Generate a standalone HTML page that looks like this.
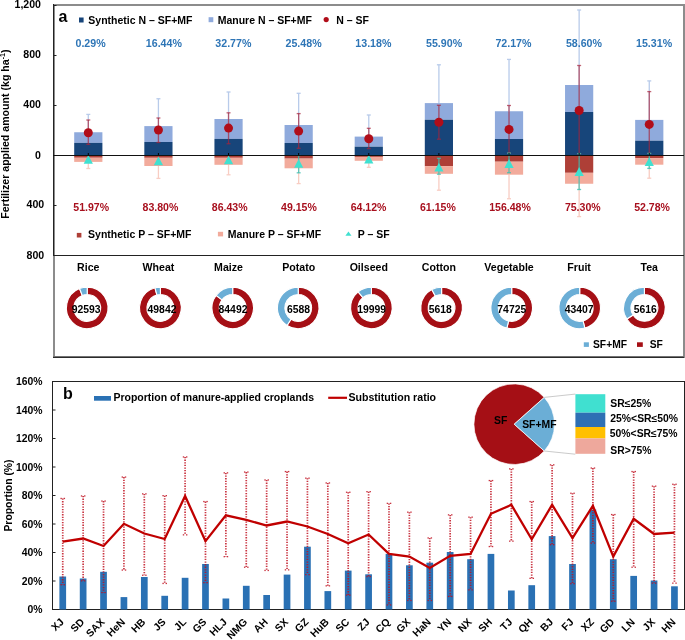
<!DOCTYPE html>
<html><head><meta charset="utf-8"><style>
html,body{margin:0;padding:0;background:#fff;}
svg{display:block;will-change:transform;}
</style></head><body>
<svg width="685" height="640" viewBox="0 0 685 640" font-family="Liberation Sans, sans-serif" font-weight="bold">
<rect width="685" height="640" fill="#fff"/>
<rect x="54" y="5" width="630" height="352" fill="none" stroke="#8c8c8c" stroke-width="2"/>
<line x1="53.50" y1="4.00" x2="53.50" y2="256.00" stroke="#222" stroke-width="1" />
<line x1="53.00" y1="255.50" x2="684.00" y2="255.50" stroke="#222" stroke-width="1" />
<line x1="53.00" y1="357.30" x2="684.00" y2="357.30" stroke="#2b2b2b" stroke-width="1.2" />
<line x1="53.50" y1="5.50" x2="56.50" y2="5.50" stroke="#222" stroke-width="1" />
<line x1="53.50" y1="55.50" x2="56.50" y2="55.50" stroke="#222" stroke-width="1" />
<line x1="53.50" y1="105.50" x2="56.50" y2="105.50" stroke="#222" stroke-width="1" />
<line x1="53.50" y1="155.50" x2="56.50" y2="155.50" stroke="#222" stroke-width="1" />
<line x1="53.50" y1="205.50" x2="56.50" y2="205.50" stroke="#222" stroke-width="1" />
<line x1="53.50" y1="255.50" x2="56.50" y2="255.50" stroke="#222" stroke-width="1" />
<text x="41.00" y="8.20" font-size="10.6" fill="#000" text-anchor="end" >1,200</text>
<text x="41.00" y="58.20" font-size="10.6" fill="#000" text-anchor="end" >800</text>
<text x="41.00" y="108.20" font-size="10.6" fill="#000" text-anchor="end" >400</text>
<text x="41.00" y="158.70" font-size="10.6" fill="#000" text-anchor="end" >0</text>
<text x="44.20" y="208.30" font-size="10.6" fill="#000" text-anchor="end" >400</text>
<text x="44.20" y="258.60" font-size="10.6" fill="#000" text-anchor="end" >800</text>
<text transform="translate(9.3,134.2) rotate(-90)" x="0" y="0" font-size="10.6" text-anchor="middle">Fertilizer applied amount (kg ha<tspan font-size="7" dy="-4">-1</tspan><tspan dy="4">)</tspan></text>
<line x1="88.30" y1="114.40" x2="88.30" y2="132.25" stroke="#b8cbea" stroke-width="1.3" />
<line x1="86.30" y1="114.40" x2="90.30" y2="114.40" stroke="#b8cbea" stroke-width="1.3" />
<line x1="88.30" y1="161.90" x2="88.30" y2="168.50" stroke="#f8cdc3" stroke-width="1.3" />
<line x1="86.30" y1="168.50" x2="90.30" y2="168.50" stroke="#f8cdc3" stroke-width="1.3" />
<rect x="74.20" y="132.25" width="28.20" height="10.65" fill="#8faadc" />
<rect x="74.20" y="142.90" width="28.20" height="12.60" fill="#17457a" />
<rect x="74.20" y="155.50" width="28.20" height="2.25" fill="#ae3f37" />
<rect x="74.20" y="157.75" width="28.20" height="4.15" fill="#f2ab9c" />
<g stroke="#a8243a" stroke-opacity="0.7" stroke-width="1.3"><line x1="88.30" y1="120.00" x2="88.30" y2="144.40"/><line x1="86.30" y1="120.00" x2="90.30" y2="120.00"/><line x1="86.30" y1="144.40" x2="90.30" y2="144.40"/></g>
<circle cx="88.30" cy="132.75" r="4.5" fill="#b00d19"/>
<polygon points="88.30,155.00 92.90,163.80 83.70,163.80" fill="#40e0d0"/>
<line x1="88.30" y1="153.00" x2="88.30" y2="155.50" stroke="#000" stroke-width="1" />
<line x1="158.42" y1="98.75" x2="158.42" y2="126.10" stroke="#b8cbea" stroke-width="1.3" />
<line x1="156.42" y1="98.75" x2="160.42" y2="98.75" stroke="#b8cbea" stroke-width="1.3" />
<line x1="158.42" y1="166.00" x2="158.42" y2="178.40" stroke="#f8cdc3" stroke-width="1.3" />
<line x1="156.42" y1="178.40" x2="160.42" y2="178.40" stroke="#f8cdc3" stroke-width="1.3" />
<rect x="144.32" y="126.10" width="28.20" height="15.90" fill="#8faadc" />
<rect x="144.32" y="142.00" width="28.20" height="13.50" fill="#17457a" />
<rect x="144.32" y="155.50" width="28.20" height="2.30" fill="#ae3f37" />
<rect x="144.32" y="157.80" width="28.20" height="8.20" fill="#f2ab9c" />
<g stroke="#a8243a" stroke-opacity="0.7" stroke-width="1.3"><line x1="158.42" y1="118.00" x2="158.42" y2="142.50"/><line x1="156.42" y1="118.00" x2="160.42" y2="118.00"/><line x1="156.42" y1="142.50" x2="160.42" y2="142.50"/></g>
<circle cx="158.42" cy="130.00" r="4.5" fill="#b00d19"/>
<polygon points="158.42,156.50 163.02,165.30 153.82,165.30" fill="#40e0d0"/>
<line x1="158.42" y1="153.00" x2="158.42" y2="155.50" stroke="#000" stroke-width="1" />
<line x1="228.54" y1="92.00" x2="228.54" y2="119.00" stroke="#b8cbea" stroke-width="1.3" />
<line x1="226.54" y1="92.00" x2="230.54" y2="92.00" stroke="#b8cbea" stroke-width="1.3" />
<line x1="228.54" y1="164.80" x2="228.54" y2="174.80" stroke="#f8cdc3" stroke-width="1.3" />
<line x1="226.54" y1="174.80" x2="230.54" y2="174.80" stroke="#f8cdc3" stroke-width="1.3" />
<rect x="214.44" y="119.00" width="28.20" height="19.90" fill="#8faadc" />
<rect x="214.44" y="138.90" width="28.20" height="16.60" fill="#17457a" />
<rect x="214.44" y="155.50" width="28.20" height="2.30" fill="#ae3f37" />
<rect x="214.44" y="157.80" width="28.20" height="7.00" fill="#f2ab9c" />
<g stroke="#a8243a" stroke-opacity="0.7" stroke-width="1.3"><line x1="228.54" y1="112.80" x2="228.54" y2="143.75"/><line x1="226.54" y1="112.80" x2="230.54" y2="112.80"/><line x1="226.54" y1="143.75" x2="230.54" y2="143.75"/></g>
<circle cx="228.54" cy="128.10" r="4.5" fill="#b00d19"/>
<polygon points="228.54,155.50 233.14,164.30 223.94,164.30" fill="#40e0d0"/>
<line x1="228.54" y1="153.00" x2="228.54" y2="155.50" stroke="#000" stroke-width="1" />
<line x1="298.66" y1="93.30" x2="298.66" y2="125.00" stroke="#b8cbea" stroke-width="1.3" />
<line x1="296.66" y1="93.30" x2="300.66" y2="93.30" stroke="#b8cbea" stroke-width="1.3" />
<line x1="298.66" y1="168.30" x2="298.66" y2="183.60" stroke="#f8cdc3" stroke-width="1.3" />
<line x1="296.66" y1="183.60" x2="300.66" y2="183.60" stroke="#f8cdc3" stroke-width="1.3" />
<rect x="284.56" y="125.00" width="28.20" height="18.00" fill="#8faadc" />
<rect x="284.56" y="143.00" width="28.20" height="12.50" fill="#17457a" />
<rect x="284.56" y="155.50" width="28.20" height="3.10" fill="#ae3f37" />
<rect x="284.56" y="158.60" width="28.20" height="9.70" fill="#f2ab9c" />
<g stroke="#a8243a" stroke-opacity="0.7" stroke-width="1.3"><line x1="298.66" y1="113.60" x2="298.66" y2="148.30"/><line x1="296.66" y1="113.60" x2="300.66" y2="113.60"/><line x1="296.66" y1="148.30" x2="300.66" y2="148.30"/></g>
<g stroke="#3cbfb2" stroke-opacity="0.8" stroke-width="1.3"><line x1="298.66" y1="155.50" x2="298.66" y2="172.80"/><line x1="296.66" y1="155.50" x2="300.66" y2="155.50"/><line x1="296.66" y1="172.80" x2="300.66" y2="172.80"/></g>
<circle cx="298.66" cy="131.10" r="4.5" fill="#b00d19"/>
<polygon points="298.66,158.90 303.26,167.70 294.06,167.70" fill="#40e0d0"/>
<line x1="298.66" y1="153.00" x2="298.66" y2="155.50" stroke="#000" stroke-width="1" />
<line x1="368.78" y1="115.00" x2="368.78" y2="136.60" stroke="#b8cbea" stroke-width="1.3" />
<line x1="366.78" y1="115.00" x2="370.78" y2="115.00" stroke="#b8cbea" stroke-width="1.3" />
<line x1="368.78" y1="160.80" x2="368.78" y2="167.30" stroke="#f8cdc3" stroke-width="1.3" />
<line x1="366.78" y1="167.30" x2="370.78" y2="167.30" stroke="#f8cdc3" stroke-width="1.3" />
<rect x="354.68" y="136.60" width="28.20" height="10.10" fill="#8faadc" />
<rect x="354.68" y="146.70" width="28.20" height="8.80" fill="#17457a" />
<rect x="354.68" y="155.50" width="28.20" height="1.40" fill="#ae3f37" />
<rect x="354.68" y="156.90" width="28.20" height="3.90" fill="#f2ab9c" />
<g stroke="#a8243a" stroke-opacity="0.7" stroke-width="1.3"><line x1="368.78" y1="128.30" x2="368.78" y2="148.60"/><line x1="366.78" y1="128.30" x2="370.78" y2="128.30"/><line x1="366.78" y1="148.60" x2="370.78" y2="148.60"/></g>
<circle cx="368.78" cy="138.75" r="4.5" fill="#b00d19"/>
<polygon points="368.78,154.70 373.38,163.50 364.18,163.50" fill="#40e0d0"/>
<line x1="368.78" y1="153.00" x2="368.78" y2="155.50" stroke="#000" stroke-width="1" />
<line x1="438.90" y1="64.80" x2="438.90" y2="103.10" stroke="#b8cbea" stroke-width="1.3" />
<line x1="436.90" y1="64.80" x2="440.90" y2="64.80" stroke="#b8cbea" stroke-width="1.3" />
<line x1="438.90" y1="173.80" x2="438.90" y2="190.20" stroke="#f8cdc3" stroke-width="1.3" />
<line x1="436.90" y1="190.20" x2="440.90" y2="190.20" stroke="#f8cdc3" stroke-width="1.3" />
<rect x="424.80" y="103.10" width="28.20" height="16.65" fill="#8faadc" />
<rect x="424.80" y="119.75" width="28.20" height="35.75" fill="#17457a" />
<rect x="424.80" y="155.50" width="28.20" height="10.60" fill="#ae3f37" />
<rect x="424.80" y="166.10" width="28.20" height="7.70" fill="#f2ab9c" />
<g stroke="#a8243a" stroke-opacity="0.7" stroke-width="1.3"><line x1="438.90" y1="105.30" x2="438.90" y2="139.20"/><line x1="436.90" y1="105.30" x2="440.90" y2="105.30"/><line x1="436.90" y1="139.20" x2="440.90" y2="139.20"/></g>
<g stroke="#3cbfb2" stroke-opacity="0.8" stroke-width="1.3"><line x1="438.90" y1="158.30" x2="438.90" y2="174.20"/><line x1="436.90" y1="158.30" x2="440.90" y2="158.30"/><line x1="436.90" y1="174.20" x2="440.90" y2="174.20"/></g>
<circle cx="438.90" cy="122.20" r="4.5" fill="#b00d19"/>
<polygon points="438.90,162.70 443.50,171.50 434.30,171.50" fill="#40e0d0"/>
<line x1="438.90" y1="153.00" x2="438.90" y2="155.50" stroke="#000" stroke-width="1" />
<line x1="509.02" y1="59.40" x2="509.02" y2="111.25" stroke="#b8cbea" stroke-width="1.3" />
<line x1="507.02" y1="59.40" x2="511.02" y2="59.40" stroke="#b8cbea" stroke-width="1.3" />
<line x1="509.02" y1="174.70" x2="509.02" y2="198.75" stroke="#f8cdc3" stroke-width="1.3" />
<line x1="507.02" y1="198.75" x2="511.02" y2="198.75" stroke="#f8cdc3" stroke-width="1.3" />
<rect x="494.92" y="111.25" width="28.20" height="27.75" fill="#8faadc" />
<rect x="494.92" y="139.00" width="28.20" height="16.50" fill="#17457a" />
<rect x="494.92" y="155.50" width="28.20" height="6.20" fill="#ae3f37" />
<rect x="494.92" y="161.70" width="28.20" height="13.00" fill="#f2ab9c" />
<g stroke="#a8243a" stroke-opacity="0.7" stroke-width="1.3"><line x1="509.02" y1="105.50" x2="509.02" y2="153.00"/><line x1="507.02" y1="105.50" x2="511.02" y2="105.50"/><line x1="507.02" y1="153.00" x2="511.02" y2="153.00"/></g>
<g stroke="#3cbfb2" stroke-opacity="0.8" stroke-width="1.3"><line x1="509.02" y1="153.10" x2="509.02" y2="172.70"/><line x1="507.02" y1="153.10" x2="511.02" y2="153.10"/><line x1="507.02" y1="172.70" x2="511.02" y2="172.70"/></g>
<circle cx="509.02" cy="129.40" r="4.5" fill="#b00d19"/>
<polygon points="509.02,159.10 513.62,167.90 504.42,167.90" fill="#40e0d0"/>
<line x1="509.02" y1="153.00" x2="509.02" y2="155.50" stroke="#000" stroke-width="1" />
<line x1="579.14" y1="10.00" x2="579.14" y2="85.00" stroke="#b8cbea" stroke-width="1.3" />
<line x1="577.14" y1="10.00" x2="581.14" y2="10.00" stroke="#b8cbea" stroke-width="1.3" />
<line x1="579.14" y1="183.75" x2="579.14" y2="216.60" stroke="#f8cdc3" stroke-width="1.3" />
<line x1="577.14" y1="216.60" x2="581.14" y2="216.60" stroke="#f8cdc3" stroke-width="1.3" />
<rect x="565.04" y="85.00" width="28.20" height="27.00" fill="#8faadc" />
<rect x="565.04" y="112.00" width="28.20" height="43.50" fill="#17457a" />
<rect x="565.04" y="155.50" width="28.20" height="17.30" fill="#ae3f37" />
<rect x="565.04" y="172.80" width="28.20" height="10.95" fill="#f2ab9c" />
<g stroke="#a8243a" stroke-opacity="0.7" stroke-width="1.3"><line x1="579.14" y1="65.50" x2="579.14" y2="153.75"/><line x1="577.14" y1="65.50" x2="581.14" y2="65.50"/><line x1="577.14" y1="153.75" x2="581.14" y2="153.75"/></g>
<g stroke="#3cbfb2" stroke-opacity="0.8" stroke-width="1.3"><line x1="579.14" y1="153.60" x2="579.14" y2="189.50"/><line x1="577.14" y1="153.60" x2="581.14" y2="153.60"/><line x1="577.14" y1="189.50" x2="581.14" y2="189.50"/></g>
<circle cx="579.14" cy="110.50" r="4.5" fill="#b00d19"/>
<polygon points="579.14,167.10 583.74,175.90 574.54,175.90" fill="#40e0d0"/>
<line x1="579.14" y1="153.00" x2="579.14" y2="155.50" stroke="#000" stroke-width="1" />
<line x1="649.26" y1="80.90" x2="649.26" y2="119.90" stroke="#b8cbea" stroke-width="1.3" />
<line x1="647.26" y1="80.90" x2="651.26" y2="80.90" stroke="#b8cbea" stroke-width="1.3" />
<line x1="649.26" y1="164.70" x2="649.26" y2="178.20" stroke="#f8cdc3" stroke-width="1.3" />
<line x1="647.26" y1="178.20" x2="651.26" y2="178.20" stroke="#f8cdc3" stroke-width="1.3" />
<rect x="635.16" y="119.90" width="28.20" height="20.80" fill="#8faadc" />
<rect x="635.16" y="140.70" width="28.20" height="14.80" fill="#17457a" />
<rect x="635.16" y="155.50" width="28.20" height="2.60" fill="#ae3f37" />
<rect x="635.16" y="158.10" width="28.20" height="6.60" fill="#f2ab9c" />
<g stroke="#a8243a" stroke-opacity="0.7" stroke-width="1.3"><line x1="649.26" y1="91.60" x2="649.26" y2="153.40"/><line x1="647.26" y1="91.60" x2="651.26" y2="91.60"/><line x1="647.26" y1="153.40" x2="651.26" y2="153.40"/></g>
<g stroke="#3cbfb2" stroke-opacity="0.8" stroke-width="1.3"><line x1="649.26" y1="153.40" x2="649.26" y2="168.40"/><line x1="647.26" y1="153.40" x2="651.26" y2="153.40"/><line x1="647.26" y1="168.40" x2="651.26" y2="168.40"/></g>
<circle cx="649.26" cy="124.40" r="4.5" fill="#b00d19"/>
<polygon points="649.26,157.20 653.86,166.00 644.66,166.00" fill="#40e0d0"/>
<line x1="649.26" y1="153.00" x2="649.26" y2="155.50" stroke="#000" stroke-width="1" />
<line x1="53.00" y1="155.50" x2="684.00" y2="155.50" stroke="#111" stroke-width="1" />
<text x="75.50" y="46.90" font-size="10.65" fill="#2e75b6" text-anchor="start" >0.29%</text>
<text x="145.80" y="46.90" font-size="10.65" fill="#2e75b6" text-anchor="start" >16.44%</text>
<text x="215.30" y="46.90" font-size="10.65" fill="#2e75b6" text-anchor="start" >32.77%</text>
<text x="285.50" y="46.90" font-size="10.65" fill="#2e75b6" text-anchor="start" >25.48%</text>
<text x="355.30" y="46.90" font-size="10.65" fill="#2e75b6" text-anchor="start" >13.18%</text>
<text x="426.00" y="46.90" font-size="10.65" fill="#2e75b6" text-anchor="start" >55.90%</text>
<text x="495.40" y="46.90" font-size="10.65" fill="#2e75b6" text-anchor="start" >72.17%</text>
<text x="565.90" y="46.90" font-size="10.65" fill="#2e75b6" text-anchor="start" >58.60%</text>
<text x="636.00" y="46.90" font-size="10.65" fill="#2e75b6" text-anchor="start" >15.31%</text>
<text x="73.30" y="210.90" font-size="10.55" fill="#a8101e" text-anchor="start" >51.97%</text>
<text x="142.60" y="210.90" font-size="10.55" fill="#a8101e" text-anchor="start" >83.80%</text>
<text x="211.80" y="210.90" font-size="10.55" fill="#a8101e" text-anchor="start" >86.43%</text>
<text x="281.10" y="210.90" font-size="10.55" fill="#a8101e" text-anchor="start" >49.15%</text>
<text x="350.70" y="210.90" font-size="10.55" fill="#a8101e" text-anchor="start" >64.12%</text>
<text x="420.00" y="210.90" font-size="10.55" fill="#a8101e" text-anchor="start" >61.15%</text>
<text x="489.20" y="210.90" font-size="10.55" fill="#a8101e" text-anchor="start" >156.48%</text>
<text x="564.90" y="210.90" font-size="10.55" fill="#a8101e" text-anchor="start" >75.30%</text>
<text x="634.20" y="210.90" font-size="10.55" fill="#a8101e" text-anchor="start" >52.78%</text>
<text x="58.50" y="22.00" font-size="16" fill="#000" text-anchor="start" >a</text>
<rect x="79.00" y="17.50" width="4.60" height="5.00" fill="#17457a" />
<text x="88.30" y="23.50" font-size="10.5" fill="#000" text-anchor="start" >Synthetic N – SF+MF</text>
<rect x="208.60" y="17.20" width="4.70" height="5.00" fill="#8faadc" />
<text x="217.70" y="23.50" font-size="10.5" fill="#000" text-anchor="start" >Manure N – SF+MF</text>
<circle cx="326.2" cy="19.6" r="2.6" fill="#b00d19"/>
<text x="336.20" y="23.50" font-size="10.5" fill="#000" text-anchor="start" >N – SF</text>
<rect x="76.80" y="232.90" width="4.60" height="4.60" fill="#ae3f37" />
<text x="88.10" y="238.10" font-size="10.5" fill="#000" text-anchor="start" >Synthetic P – SF+MF</text>
<rect x="217.90" y="231.80" width="5.20" height="4.60" fill="#f2ab9c" />
<text x="227.70" y="237.60" font-size="10.5" fill="#000" text-anchor="start" >Manure P – SF+MF</text>
<polygon points="348.45,231.6 351.5,235.8 345.4,235.8" fill="#40e0d0"/>
<text x="357.80" y="238.10" font-size="10.5" fill="#000" text-anchor="start" >P – SF</text>
<text x="88.30" y="271.10" font-size="10.6" fill="#000" text-anchor="middle" >Rice</text>
<text x="158.42" y="271.10" font-size="10.6" fill="#000" text-anchor="middle" >Wheat</text>
<text x="228.54" y="271.10" font-size="10.6" fill="#000" text-anchor="middle" >Maize</text>
<text x="298.66" y="271.10" font-size="10.6" fill="#000" text-anchor="middle" >Potato</text>
<text x="368.78" y="271.10" font-size="10.6" fill="#000" text-anchor="middle" >Oilseed</text>
<text x="438.90" y="271.10" font-size="10.6" fill="#000" text-anchor="middle" >Cotton</text>
<text x="509.02" y="271.10" font-size="10.6" fill="#000" text-anchor="middle" >Vegetable</text>
<text x="579.14" y="271.10" font-size="10.6" fill="#000" text-anchor="middle" >Fruit</text>
<text x="649.26" y="271.10" font-size="10.6" fill="#000" text-anchor="middle" >Tea</text>
<path d="M87.20,287.10 A20.8,20.8 0 1 1 79.54,288.56 L82.27,295.44 A13.4,13.4 0 1 0 87.20,294.50 Z" fill="#a50f15" stroke="#fff" stroke-width="1.1"/>
<path d="M79.54,288.56 A20.8,20.8 0 0 1 87.20,287.10 L87.20,294.50 A13.4,13.4 0 0 0 82.27,295.44 Z" fill="#6baed6" stroke="#fff" stroke-width="1.1"/>
<text x="86.10" y="312.60" font-size="10.4" fill="#000" text-anchor="middle" >92593</text>
<path d="M160.40,287.10 A20.8,20.8 0 1 1 154.97,287.82 L156.90,294.96 A13.4,13.4 0 1 0 160.40,294.50 Z" fill="#a50f15" stroke="#fff" stroke-width="1.1"/>
<path d="M154.97,287.82 A20.8,20.8 0 0 1 160.40,287.10 L160.40,294.50 A13.4,13.4 0 0 0 156.90,294.96 Z" fill="#6baed6" stroke="#fff" stroke-width="1.1"/>
<text x="162.00" y="312.60" font-size="10.4" fill="#000" text-anchor="middle" >49842</text>
<path d="M232.70,287.10 A20.8,20.8 0 1 1 216.11,295.36 L222.01,299.82 A13.4,13.4 0 1 0 232.70,294.50 Z" fill="#a50f15" stroke="#fff" stroke-width="1.1"/>
<path d="M216.11,295.36 A20.8,20.8 0 0 1 232.70,287.10 L232.70,294.50 A13.4,13.4 0 0 0 222.01,299.82 Z" fill="#6baed6" stroke="#fff" stroke-width="1.1"/>
<text x="233.00" y="312.60" font-size="10.4" fill="#000" text-anchor="middle" >84492</text>
<path d="M298.20,287.10 A20.8,20.8 0 1 1 287.05,325.46 L291.02,319.21 A13.4,13.4 0 1 0 298.20,294.50 Z" fill="#a50f15" stroke="#fff" stroke-width="1.1"/>
<path d="M287.05,325.46 A20.8,20.8 0 0 1 298.20,287.10 L298.20,294.50 A13.4,13.4 0 0 0 291.02,319.21 Z" fill="#6baed6" stroke="#fff" stroke-width="1.1"/>
<text x="298.50" y="312.60" font-size="10.4" fill="#000" text-anchor="middle" >6588</text>
<path d="M371.40,287.10 A20.8,20.8 0 1 1 358.14,291.87 L362.86,297.58 A13.4,13.4 0 1 0 371.40,294.50 Z" fill="#a50f15" stroke="#fff" stroke-width="1.1"/>
<path d="M358.14,291.87 A20.8,20.8 0 0 1 371.40,287.10 L371.40,294.50 A13.4,13.4 0 0 0 362.86,297.58 Z" fill="#6baed6" stroke="#fff" stroke-width="1.1"/>
<text x="371.60" y="312.60" font-size="10.4" fill="#000" text-anchor="middle" >19999</text>
<path d="M441.60,287.10 A20.8,20.8 0 1 1 431.81,289.55 L435.29,296.08 A13.4,13.4 0 1 0 441.60,294.50 Z" fill="#a50f15" stroke="#fff" stroke-width="1.1"/>
<path d="M431.81,289.55 A20.8,20.8 0 0 1 441.60,287.10 L441.60,294.50 A13.4,13.4 0 0 0 435.29,296.08 Z" fill="#6baed6" stroke="#fff" stroke-width="1.1"/>
<text x="440.20" y="312.60" font-size="10.4" fill="#000" text-anchor="middle" >5618</text>
<path d="M511.70,287.10 A20.8,20.8 0 1 1 506.91,328.14 L508.61,320.94 A13.4,13.4 0 1 0 511.70,294.50 Z" fill="#a50f15" stroke="#fff" stroke-width="1.1"/>
<path d="M506.91,328.14 A20.8,20.8 0 0 1 511.70,287.10 L511.70,294.50 A13.4,13.4 0 0 0 508.61,320.94 Z" fill="#6baed6" stroke="#fff" stroke-width="1.1"/>
<text x="511.80" y="312.60" font-size="10.4" fill="#000" text-anchor="middle" >74725</text>
<path d="M579.70,287.10 A20.8,20.8 0 0 1 584.87,328.05 L583.03,320.88 A13.4,13.4 0 0 0 579.70,294.50 Z" fill="#a50f15" stroke="#fff" stroke-width="1.1"/>
<path d="M584.87,328.05 A20.8,20.8 0 1 1 579.70,287.10 L579.70,294.50 A13.4,13.4 0 1 0 583.03,320.88 Z" fill="#6baed6" stroke="#fff" stroke-width="1.1"/>
<text x="579.20" y="312.60" font-size="10.4" fill="#000" text-anchor="middle" >43407</text>
<path d="M644.40,287.10 A20.8,20.8 0 1 1 626.84,319.05 L633.09,315.08 A13.4,13.4 0 1 0 644.40,294.50 Z" fill="#a50f15" stroke="#fff" stroke-width="1.1"/>
<path d="M626.84,319.05 A20.8,20.8 0 0 1 644.40,287.10 L644.40,294.50 A13.4,13.4 0 0 0 633.09,315.08 Z" fill="#6baed6" stroke="#fff" stroke-width="1.1"/>
<text x="645.20" y="312.60" font-size="10.4" fill="#000" text-anchor="middle" >5616</text>
<rect x="583.80" y="342.30" width="5.10" height="4.60" fill="#6baed6" />
<text x="593.00" y="348.40" font-size="10.3" fill="#000" text-anchor="start" >SF+MF</text>
<rect x="637.00" y="342.30" width="5.80" height="4.60" fill="#a50f15" />
<text x="649.70" y="348.40" font-size="10.3" fill="#000" text-anchor="start" >SF</text>
<rect x="52.5" y="381.5" width="632" height="228" fill="none" stroke="#222" stroke-width="1"/>
<line x1="52.50" y1="609.50" x2="55.50" y2="609.50" stroke="#222" stroke-width="1" />
<text x="42.50" y="613.20" font-size="10.4" fill="#000" text-anchor="end" >0%</text>
<line x1="52.50" y1="581.00" x2="55.50" y2="581.00" stroke="#222" stroke-width="1" />
<text x="42.50" y="584.70" font-size="10.4" fill="#000" text-anchor="end" >20%</text>
<line x1="52.50" y1="552.50" x2="55.50" y2="552.50" stroke="#222" stroke-width="1" />
<text x="42.50" y="556.20" font-size="10.4" fill="#000" text-anchor="end" >40%</text>
<line x1="52.50" y1="524.00" x2="55.50" y2="524.00" stroke="#222" stroke-width="1" />
<text x="42.50" y="527.70" font-size="10.4" fill="#000" text-anchor="end" >60%</text>
<line x1="52.50" y1="495.50" x2="55.50" y2="495.50" stroke="#222" stroke-width="1" />
<text x="42.50" y="499.20" font-size="10.4" fill="#000" text-anchor="end" >80%</text>
<line x1="52.50" y1="467.00" x2="55.50" y2="467.00" stroke="#222" stroke-width="1" />
<text x="42.50" y="470.70" font-size="10.4" fill="#000" text-anchor="end" >100%</text>
<line x1="52.50" y1="438.50" x2="55.50" y2="438.50" stroke="#222" stroke-width="1" />
<text x="42.50" y="442.20" font-size="10.4" fill="#000" text-anchor="end" >120%</text>
<line x1="52.50" y1="410.00" x2="55.50" y2="410.00" stroke="#222" stroke-width="1" />
<text x="42.50" y="413.70" font-size="10.4" fill="#000" text-anchor="end" >140%</text>
<line x1="52.50" y1="381.50" x2="55.50" y2="381.50" stroke="#222" stroke-width="1" />
<text x="42.50" y="385.20" font-size="10.4" fill="#000" text-anchor="end" >160%</text>
<text transform="translate(12.3,495.5) rotate(-90)" x="0" y="0" font-size="10.4" text-anchor="middle">Proportion (%)</text>
<rect x="59.40" y="576.50" width="6.70" height="33.00" fill="#2a71b4" />
<rect x="79.79" y="578.50" width="6.70" height="31.00" fill="#2a71b4" />
<rect x="100.18" y="571.80" width="6.70" height="37.70" fill="#2a71b4" />
<rect x="120.57" y="597.10" width="6.70" height="12.40" fill="#2a71b4" />
<rect x="140.96" y="577.00" width="6.70" height="32.50" fill="#2a71b4" />
<rect x="161.35" y="595.80" width="6.70" height="13.70" fill="#2a71b4" />
<rect x="181.74" y="577.80" width="6.70" height="31.70" fill="#2a71b4" />
<rect x="202.13" y="564.00" width="6.70" height="45.50" fill="#2a71b4" />
<rect x="222.52" y="598.50" width="6.70" height="11.00" fill="#2a71b4" />
<rect x="242.91" y="585.80" width="6.70" height="23.70" fill="#2a71b4" />
<rect x="263.30" y="595.00" width="6.70" height="14.50" fill="#2a71b4" />
<rect x="283.69" y="574.60" width="6.70" height="34.90" fill="#2a71b4" />
<rect x="304.08" y="546.70" width="6.70" height="62.80" fill="#2a71b4" />
<rect x="324.47" y="591.10" width="6.70" height="18.40" fill="#2a71b4" />
<rect x="344.86" y="570.60" width="6.70" height="38.90" fill="#2a71b4" />
<rect x="365.25" y="574.30" width="6.70" height="35.20" fill="#2a71b4" />
<rect x="385.64" y="553.90" width="6.70" height="55.60" fill="#2a71b4" />
<rect x="406.03" y="565.30" width="6.70" height="44.20" fill="#2a71b4" />
<rect x="426.42" y="562.70" width="6.70" height="46.80" fill="#2a71b4" />
<rect x="446.81" y="552.00" width="6.70" height="57.50" fill="#2a71b4" />
<rect x="467.20" y="559.20" width="6.70" height="50.30" fill="#2a71b4" />
<rect x="487.59" y="553.90" width="6.70" height="55.60" fill="#2a71b4" />
<rect x="507.98" y="590.50" width="6.70" height="19.00" fill="#2a71b4" />
<rect x="528.37" y="585.20" width="6.70" height="24.30" fill="#2a71b4" />
<rect x="548.76" y="536.10" width="6.70" height="73.40" fill="#2a71b4" />
<rect x="569.15" y="564.00" width="6.70" height="45.50" fill="#2a71b4" />
<rect x="589.54" y="509.50" width="6.70" height="100.00" fill="#2a71b4" />
<rect x="609.93" y="559.20" width="6.70" height="50.30" fill="#2a71b4" />
<rect x="630.32" y="575.90" width="6.70" height="33.60" fill="#2a71b4" />
<rect x="650.71" y="580.50" width="6.70" height="29.00" fill="#2a71b4" />
<rect x="671.10" y="586.30" width="6.70" height="23.20" fill="#2a71b4" />
<g stroke="#c01020" stroke-opacity="0.85" stroke-width="1.7" stroke-dasharray="1.3 1.3"><line x1="62.75" y1="498.50" x2="62.75" y2="584.70"/></g>
<g fill="#c01020" fill-opacity="0.85"><rect x="60.45" y="497.80" width="1.4" height="1.3"/><rect x="63.65" y="497.80" width="1.4" height="1.3"/><rect x="60.45" y="584.10" width="1.4" height="1.3"/><rect x="63.65" y="584.10" width="1.4" height="1.3"/></g>
<g stroke="#c01020" stroke-opacity="0.85" stroke-width="1.7" stroke-dasharray="1.3 1.3"><line x1="83.14" y1="496.00" x2="83.14" y2="580.80"/></g>
<g fill="#c01020" fill-opacity="0.85"><rect x="80.84" y="495.30" width="1.4" height="1.3"/><rect x="84.04" y="495.30" width="1.4" height="1.3"/><rect x="80.84" y="580.20" width="1.4" height="1.3"/><rect x="84.04" y="580.20" width="1.4" height="1.3"/></g>
<g stroke="#c01020" stroke-opacity="0.85" stroke-width="1.7" stroke-dasharray="1.3 1.3"><line x1="103.53" y1="501.10" x2="103.53" y2="592.50"/></g>
<g fill="#c01020" fill-opacity="0.85"><rect x="101.23" y="500.40" width="1.4" height="1.3"/><rect x="104.43" y="500.40" width="1.4" height="1.3"/><rect x="101.23" y="591.90" width="1.4" height="1.3"/><rect x="104.43" y="591.90" width="1.4" height="1.3"/></g>
<g stroke="#c01020" stroke-opacity="0.85" stroke-width="1.7" stroke-dasharray="1.3 1.3"><line x1="123.92" y1="477.10" x2="123.92" y2="570.00"/></g>
<g fill="#c01020" fill-opacity="0.85"><rect x="121.62" y="476.40" width="1.4" height="1.3"/><rect x="124.82" y="476.40" width="1.4" height="1.3"/><rect x="121.62" y="569.40" width="1.4" height="1.3"/><rect x="124.82" y="569.40" width="1.4" height="1.3"/></g>
<g stroke="#c01020" stroke-opacity="0.85" stroke-width="1.7" stroke-dasharray="1.3 1.3"><line x1="144.31" y1="493.90" x2="144.31" y2="575.20"/></g>
<g fill="#c01020" fill-opacity="0.85"><rect x="142.01" y="493.20" width="1.4" height="1.3"/><rect x="145.21" y="493.20" width="1.4" height="1.3"/><rect x="142.01" y="574.60" width="1.4" height="1.3"/><rect x="145.21" y="574.60" width="1.4" height="1.3"/></g>
<g stroke="#c01020" stroke-opacity="0.85" stroke-width="1.7" stroke-dasharray="1.3 1.3"><line x1="164.70" y1="495.70" x2="164.70" y2="583.40"/></g>
<g fill="#c01020" fill-opacity="0.85"><rect x="162.40" y="495.00" width="1.4" height="1.3"/><rect x="165.60" y="495.00" width="1.4" height="1.3"/><rect x="162.40" y="582.80" width="1.4" height="1.3"/><rect x="165.60" y="582.80" width="1.4" height="1.3"/></g>
<g stroke="#c01020" stroke-opacity="0.85" stroke-width="1.7" stroke-dasharray="1.3 1.3"><line x1="185.09" y1="457.00" x2="185.09" y2="534.80"/></g>
<g fill="#c01020" fill-opacity="0.85"><rect x="182.79" y="456.30" width="1.4" height="1.3"/><rect x="185.99" y="456.30" width="1.4" height="1.3"/><rect x="182.79" y="534.20" width="1.4" height="1.3"/><rect x="185.99" y="534.20" width="1.4" height="1.3"/></g>
<g stroke="#c01020" stroke-opacity="0.85" stroke-width="1.7" stroke-dasharray="1.3 1.3"><line x1="205.48" y1="501.60" x2="205.48" y2="582.60"/></g>
<g fill="#c01020" fill-opacity="0.85"><rect x="203.18" y="500.90" width="1.4" height="1.3"/><rect x="206.38" y="500.90" width="1.4" height="1.3"/><rect x="203.18" y="582.00" width="1.4" height="1.3"/><rect x="206.38" y="582.00" width="1.4" height="1.3"/></g>
<g stroke="#c01020" stroke-opacity="0.85" stroke-width="1.7" stroke-dasharray="1.3 1.3"><line x1="225.87" y1="472.90" x2="225.87" y2="556.60"/></g>
<g fill="#c01020" fill-opacity="0.85"><rect x="223.57" y="472.20" width="1.4" height="1.3"/><rect x="226.77" y="472.20" width="1.4" height="1.3"/><rect x="223.57" y="556.00" width="1.4" height="1.3"/><rect x="226.77" y="556.00" width="1.4" height="1.3"/></g>
<g stroke="#c01020" stroke-opacity="0.85" stroke-width="1.7" stroke-dasharray="1.3 1.3"><line x1="246.26" y1="472.10" x2="246.26" y2="567.20"/></g>
<g fill="#c01020" fill-opacity="0.85"><rect x="243.96" y="471.40" width="1.4" height="1.3"/><rect x="247.16" y="471.40" width="1.4" height="1.3"/><rect x="243.96" y="566.60" width="1.4" height="1.3"/><rect x="247.16" y="566.60" width="1.4" height="1.3"/></g>
<g stroke="#c01020" stroke-opacity="0.85" stroke-width="1.7" stroke-dasharray="1.3 1.3"><line x1="266.65" y1="480.00" x2="266.65" y2="570.40"/></g>
<g fill="#c01020" fill-opacity="0.85"><rect x="264.35" y="479.30" width="1.4" height="1.3"/><rect x="267.55" y="479.30" width="1.4" height="1.3"/><rect x="264.35" y="569.80" width="1.4" height="1.3"/><rect x="267.55" y="569.80" width="1.4" height="1.3"/></g>
<g stroke="#c01020" stroke-opacity="0.85" stroke-width="1.7" stroke-dasharray="1.3 1.3"><line x1="287.04" y1="471.60" x2="287.04" y2="569.80"/></g>
<g fill="#c01020" fill-opacity="0.85"><rect x="284.74" y="470.90" width="1.4" height="1.3"/><rect x="287.94" y="470.90" width="1.4" height="1.3"/><rect x="284.74" y="569.20" width="1.4" height="1.3"/><rect x="287.94" y="569.20" width="1.4" height="1.3"/></g>
<g stroke="#c01020" stroke-opacity="0.85" stroke-width="1.7" stroke-dasharray="1.3 1.3"><line x1="307.43" y1="478.20" x2="307.43" y2="574.60"/></g>
<g fill="#c01020" fill-opacity="0.85"><rect x="305.13" y="477.50" width="1.4" height="1.3"/><rect x="308.33" y="477.50" width="1.4" height="1.3"/><rect x="305.13" y="574.00" width="1.4" height="1.3"/><rect x="308.33" y="574.00" width="1.4" height="1.3"/></g>
<g stroke="#c01020" stroke-opacity="0.85" stroke-width="1.7" stroke-dasharray="1.3 1.3"><line x1="327.82" y1="483.00" x2="327.82" y2="585.80"/></g>
<g fill="#c01020" fill-opacity="0.85"><rect x="325.52" y="482.30" width="1.4" height="1.3"/><rect x="328.72" y="482.30" width="1.4" height="1.3"/><rect x="325.52" y="585.20" width="1.4" height="1.3"/><rect x="328.72" y="585.20" width="1.4" height="1.3"/></g>
<g stroke="#c01020" stroke-opacity="0.85" stroke-width="1.7" stroke-dasharray="1.3 1.3"><line x1="348.21" y1="492.30" x2="348.21" y2="595.10"/></g>
<g fill="#c01020" fill-opacity="0.85"><rect x="345.91" y="491.60" width="1.4" height="1.3"/><rect x="349.11" y="491.60" width="1.4" height="1.3"/><rect x="345.91" y="594.50" width="1.4" height="1.3"/><rect x="349.11" y="594.50" width="1.4" height="1.3"/></g>
<g stroke="#c01020" stroke-opacity="0.85" stroke-width="1.7" stroke-dasharray="1.3 1.3"><line x1="368.60" y1="491.70" x2="368.60" y2="576.50"/></g>
<g fill="#c01020" fill-opacity="0.85"><rect x="366.30" y="491.00" width="1.4" height="1.3"/><rect x="369.50" y="491.00" width="1.4" height="1.3"/><rect x="366.30" y="575.90" width="1.4" height="1.3"/><rect x="369.50" y="575.90" width="1.4" height="1.3"/></g>
<g stroke="#c01020" stroke-opacity="0.85" stroke-width="1.7" stroke-dasharray="1.3 1.3"><line x1="388.99" y1="503.40" x2="388.99" y2="604.90"/></g>
<g fill="#c01020" fill-opacity="0.85"><rect x="386.69" y="502.70" width="1.4" height="1.3"/><rect x="389.89" y="502.70" width="1.4" height="1.3"/><rect x="386.69" y="604.30" width="1.4" height="1.3"/><rect x="389.89" y="604.30" width="1.4" height="1.3"/></g>
<g stroke="#c01020" stroke-opacity="0.85" stroke-width="1.7" stroke-dasharray="1.3 1.3"><line x1="409.38" y1="512.20" x2="409.38" y2="600.40"/></g>
<g fill="#c01020" fill-opacity="0.85"><rect x="407.08" y="511.50" width="1.4" height="1.3"/><rect x="410.28" y="511.50" width="1.4" height="1.3"/><rect x="407.08" y="599.80" width="1.4" height="1.3"/><rect x="410.28" y="599.80" width="1.4" height="1.3"/></g>
<g stroke="#c01020" stroke-opacity="0.85" stroke-width="1.7" stroke-dasharray="1.3 1.3"><line x1="429.77" y1="538.00" x2="429.77" y2="600.40"/></g>
<g fill="#c01020" fill-opacity="0.85"><rect x="427.47" y="537.30" width="1.4" height="1.3"/><rect x="430.67" y="537.30" width="1.4" height="1.3"/><rect x="427.47" y="599.80" width="1.4" height="1.3"/><rect x="430.67" y="599.80" width="1.4" height="1.3"/></g>
<g stroke="#c01020" stroke-opacity="0.85" stroke-width="1.7" stroke-dasharray="1.3 1.3"><line x1="450.16" y1="514.90" x2="450.16" y2="596.40"/></g>
<g fill="#c01020" fill-opacity="0.85"><rect x="447.86" y="514.20" width="1.4" height="1.3"/><rect x="451.06" y="514.20" width="1.4" height="1.3"/><rect x="447.86" y="595.80" width="1.4" height="1.3"/><rect x="451.06" y="595.80" width="1.4" height="1.3"/></g>
<g stroke="#c01020" stroke-opacity="0.85" stroke-width="1.7" stroke-dasharray="1.3 1.3"><line x1="470.55" y1="517.20" x2="470.55" y2="589.80"/></g>
<g fill="#c01020" fill-opacity="0.85"><rect x="468.25" y="516.50" width="1.4" height="1.3"/><rect x="471.45" y="516.50" width="1.4" height="1.3"/><rect x="468.25" y="589.20" width="1.4" height="1.3"/><rect x="471.45" y="589.20" width="1.4" height="1.3"/></g>
<g stroke="#c01020" stroke-opacity="0.85" stroke-width="1.7" stroke-dasharray="1.3 1.3"><line x1="490.94" y1="480.60" x2="490.94" y2="546.50"/></g>
<g fill="#c01020" fill-opacity="0.85"><rect x="488.64" y="479.90" width="1.4" height="1.3"/><rect x="491.84" y="479.90" width="1.4" height="1.3"/><rect x="488.64" y="545.90" width="1.4" height="1.3"/><rect x="491.84" y="545.90" width="1.4" height="1.3"/></g>
<g stroke="#c01020" stroke-opacity="0.85" stroke-width="1.7" stroke-dasharray="1.3 1.3"><line x1="511.33" y1="468.90" x2="511.33" y2="541.10"/></g>
<g fill="#c01020" fill-opacity="0.85"><rect x="509.03" y="468.20" width="1.4" height="1.3"/><rect x="512.23" y="468.20" width="1.4" height="1.3"/><rect x="509.03" y="540.50" width="1.4" height="1.3"/><rect x="512.23" y="540.50" width="1.4" height="1.3"/></g>
<g stroke="#c01020" stroke-opacity="0.85" stroke-width="1.7" stroke-dasharray="1.3 1.3"><line x1="531.72" y1="501.60" x2="531.72" y2="578.30"/></g>
<g fill="#c01020" fill-opacity="0.85"><rect x="529.42" y="500.90" width="1.4" height="1.3"/><rect x="532.62" y="500.90" width="1.4" height="1.3"/><rect x="529.42" y="577.70" width="1.4" height="1.3"/><rect x="532.62" y="577.70" width="1.4" height="1.3"/></g>
<g stroke="#c01020" stroke-opacity="0.85" stroke-width="1.7" stroke-dasharray="1.3 1.3"><line x1="552.11" y1="464.90" x2="552.11" y2="544.60"/></g>
<g fill="#c01020" fill-opacity="0.85"><rect x="549.81" y="464.20" width="1.4" height="1.3"/><rect x="553.01" y="464.20" width="1.4" height="1.3"/><rect x="549.81" y="544.00" width="1.4" height="1.3"/><rect x="553.01" y="544.00" width="1.4" height="1.3"/></g>
<g stroke="#c01020" stroke-opacity="0.85" stroke-width="1.7" stroke-dasharray="1.3 1.3"><line x1="572.50" y1="493.30" x2="572.50" y2="583.60"/></g>
<g fill="#c01020" fill-opacity="0.85"><rect x="570.20" y="492.60" width="1.4" height="1.3"/><rect x="573.40" y="492.60" width="1.4" height="1.3"/><rect x="570.20" y="583.00" width="1.4" height="1.3"/><rect x="573.40" y="583.00" width="1.4" height="1.3"/></g>
<g stroke="#c01020" stroke-opacity="0.85" stroke-width="1.7" stroke-dasharray="1.3 1.3"><line x1="592.89" y1="468.10" x2="592.89" y2="543.00"/></g>
<g fill="#c01020" fill-opacity="0.85"><rect x="590.59" y="467.40" width="1.4" height="1.3"/><rect x="593.79" y="467.40" width="1.4" height="1.3"/><rect x="590.59" y="542.40" width="1.4" height="1.3"/><rect x="593.79" y="542.40" width="1.4" height="1.3"/></g>
<g stroke="#c01020" stroke-opacity="0.85" stroke-width="1.7" stroke-dasharray="1.3 1.3"><line x1="613.28" y1="514.60" x2="613.28" y2="601.20"/></g>
<g fill="#c01020" fill-opacity="0.85"><rect x="610.98" y="513.90" width="1.4" height="1.3"/><rect x="614.18" y="513.90" width="1.4" height="1.3"/><rect x="610.98" y="600.60" width="1.4" height="1.3"/><rect x="614.18" y="600.60" width="1.4" height="1.3"/></g>
<g stroke="#c01020" stroke-opacity="0.85" stroke-width="1.7" stroke-dasharray="1.3 1.3"><line x1="633.67" y1="471.60" x2="633.67" y2="567.20"/></g>
<g fill="#c01020" fill-opacity="0.85"><rect x="631.37" y="470.90" width="1.4" height="1.3"/><rect x="634.57" y="470.90" width="1.4" height="1.3"/><rect x="631.37" y="566.60" width="1.4" height="1.3"/><rect x="634.57" y="566.60" width="1.4" height="1.3"/></g>
<g stroke="#c01020" stroke-opacity="0.85" stroke-width="1.7" stroke-dasharray="1.3 1.3"><line x1="654.06" y1="486.20" x2="654.06" y2="583.10"/></g>
<g fill="#c01020" fill-opacity="0.85"><rect x="651.76" y="485.50" width="1.4" height="1.3"/><rect x="654.96" y="485.50" width="1.4" height="1.3"/><rect x="651.76" y="582.50" width="1.4" height="1.3"/><rect x="654.96" y="582.50" width="1.4" height="1.3"/></g>
<g stroke="#c01020" stroke-opacity="0.85" stroke-width="1.7" stroke-dasharray="1.3 1.3"><line x1="674.45" y1="484.30" x2="674.45" y2="583.10"/></g>
<g fill="#c01020" fill-opacity="0.85"><rect x="672.15" y="483.60" width="1.4" height="1.3"/><rect x="675.35" y="483.60" width="1.4" height="1.3"/><rect x="672.15" y="582.50" width="1.4" height="1.3"/><rect x="675.35" y="582.50" width="1.4" height="1.3"/></g>
<polyline points="62.75,541.60 83.14,538.50 103.53,546.00 123.92,523.80 144.31,533.50 164.70,539.00 185.09,496.00 205.48,541.10 225.87,515.40 246.26,519.90 266.65,525.50 287.04,521.50 307.43,526.50 327.82,534.00 348.21,543.30 368.60,534.50 388.99,553.90 409.38,556.60 429.77,568.00 450.16,555.80 470.55,553.90 490.94,513.80 511.33,504.80 531.72,539.30 552.11,504.80 572.50,538.00 592.89,505.80 613.28,556.60 633.67,518.80 654.06,534.00 674.45,532.60" fill="none" stroke="#c00000" stroke-width="2.3" stroke-linejoin="miter"/>
<text transform="translate(59.45,617.50) rotate(-45)" x="0" y="0" font-size="10.4" text-anchor="end" dominant-baseline="hanging">XJ</text>
<text transform="translate(79.84,617.50) rotate(-45)" x="0" y="0" font-size="10.4" text-anchor="end" dominant-baseline="hanging">SD</text>
<text transform="translate(100.23,617.50) rotate(-45)" x="0" y="0" font-size="10.4" text-anchor="end" dominant-baseline="hanging">SAX</text>
<text transform="translate(120.62,617.50) rotate(-45)" x="0" y="0" font-size="10.4" text-anchor="end" dominant-baseline="hanging">HeN</text>
<text transform="translate(141.01,617.50) rotate(-45)" x="0" y="0" font-size="10.4" text-anchor="end" dominant-baseline="hanging">HB</text>
<text transform="translate(161.40,617.50) rotate(-45)" x="0" y="0" font-size="10.4" text-anchor="end" dominant-baseline="hanging">JS</text>
<text transform="translate(181.79,617.50) rotate(-45)" x="0" y="0" font-size="10.4" text-anchor="end" dominant-baseline="hanging">JL</text>
<text transform="translate(202.18,617.50) rotate(-45)" x="0" y="0" font-size="10.4" text-anchor="end" dominant-baseline="hanging">GS</text>
<text transform="translate(222.57,617.50) rotate(-45)" x="0" y="0" font-size="10.4" text-anchor="end" dominant-baseline="hanging">HLJ</text>
<text transform="translate(242.96,617.50) rotate(-45)" x="0" y="0" font-size="10.4" text-anchor="end" dominant-baseline="hanging">NMG</text>
<text transform="translate(263.35,617.50) rotate(-45)" x="0" y="0" font-size="10.4" text-anchor="end" dominant-baseline="hanging">AH</text>
<text transform="translate(283.74,617.50) rotate(-45)" x="0" y="0" font-size="10.4" text-anchor="end" dominant-baseline="hanging">SX</text>
<text transform="translate(304.13,617.50) rotate(-45)" x="0" y="0" font-size="10.4" text-anchor="end" dominant-baseline="hanging">GZ</text>
<text transform="translate(324.52,617.50) rotate(-45)" x="0" y="0" font-size="10.4" text-anchor="end" dominant-baseline="hanging">HuB</text>
<text transform="translate(344.91,617.50) rotate(-45)" x="0" y="0" font-size="10.4" text-anchor="end" dominant-baseline="hanging">SC</text>
<text transform="translate(365.30,617.50) rotate(-45)" x="0" y="0" font-size="10.4" text-anchor="end" dominant-baseline="hanging">ZJ</text>
<text transform="translate(385.69,617.50) rotate(-45)" x="0" y="0" font-size="10.4" text-anchor="end" dominant-baseline="hanging">CQ</text>
<text transform="translate(406.08,617.50) rotate(-45)" x="0" y="0" font-size="10.4" text-anchor="end" dominant-baseline="hanging">GX</text>
<text transform="translate(426.47,617.50) rotate(-45)" x="0" y="0" font-size="10.4" text-anchor="end" dominant-baseline="hanging">HaN</text>
<text transform="translate(446.86,617.50) rotate(-45)" x="0" y="0" font-size="10.4" text-anchor="end" dominant-baseline="hanging">YN</text>
<text transform="translate(467.25,617.50) rotate(-45)" x="0" y="0" font-size="10.4" text-anchor="end" dominant-baseline="hanging">NX</text>
<text transform="translate(487.64,617.50) rotate(-45)" x="0" y="0" font-size="10.4" text-anchor="end" dominant-baseline="hanging">SH</text>
<text transform="translate(508.03,617.50) rotate(-45)" x="0" y="0" font-size="10.4" text-anchor="end" dominant-baseline="hanging">TJ</text>
<text transform="translate(528.42,617.50) rotate(-45)" x="0" y="0" font-size="10.4" text-anchor="end" dominant-baseline="hanging">QH</text>
<text transform="translate(548.81,617.50) rotate(-45)" x="0" y="0" font-size="10.4" text-anchor="end" dominant-baseline="hanging">BJ</text>
<text transform="translate(569.20,617.50) rotate(-45)" x="0" y="0" font-size="10.4" text-anchor="end" dominant-baseline="hanging">FJ</text>
<text transform="translate(589.59,617.50) rotate(-45)" x="0" y="0" font-size="10.4" text-anchor="end" dominant-baseline="hanging">XZ</text>
<text transform="translate(609.98,617.50) rotate(-45)" x="0" y="0" font-size="10.4" text-anchor="end" dominant-baseline="hanging">GD</text>
<text transform="translate(630.37,617.50) rotate(-45)" x="0" y="0" font-size="10.4" text-anchor="end" dominant-baseline="hanging">LN</text>
<text transform="translate(650.76,617.50) rotate(-45)" x="0" y="0" font-size="10.4" text-anchor="end" dominant-baseline="hanging">JX</text>
<text transform="translate(671.15,617.50) rotate(-45)" x="0" y="0" font-size="10.4" text-anchor="end" dominant-baseline="hanging">HN</text>
<text x="63.10" y="399.00" font-size="16" fill="#000" text-anchor="start" >b</text>
<rect x="94.00" y="396.00" width="17.00" height="4.70" fill="#2a71b4" />
<text x="113.40" y="401.10" font-size="10.5" fill="#000" text-anchor="start" >Proportion of manure-applied croplands</text>
<line x1="328.20" y1="397.80" x2="347.00" y2="397.80" stroke="#c00000" stroke-width="2.2" />
<text x="348.40" y="401.10" font-size="10.6" fill="#000" text-anchor="start" >Substitution ratio</text>
<path d="M514.2,424.2 L544.29,451.01 A40.3,40.3 0 1 1 544.29,397.39 Z" fill="#a50f15" stroke="#fff" stroke-width="0.7"/>
<path d="M514.2,424.2 L544.29,397.39 A40.3,40.3 0 0 1 544.29,451.01 Z" fill="#6baed6" stroke="#fff" stroke-width="0.7"/>
<line x1="544.29" y1="397.39" x2="575.30" y2="394.10" stroke="#bdbdbd" stroke-width="0.8" />
<line x1="544.29" y1="451.01" x2="575.30" y2="454.20" stroke="#bdbdbd" stroke-width="0.8" />
<text x="494.10" y="423.80" font-size="10.4" fill="#000" text-anchor="start" >SF</text>
<text x="522.20" y="427.90" font-size="10.4" fill="#000" text-anchor="start" >SF+MF</text>
<rect x="575.40" y="394.20" width="29.90" height="18.50" fill="#40e0d0" />
<rect x="575.40" y="412.70" width="29.90" height="14.30" fill="#2e70b4" />
<rect x="575.40" y="427.00" width="29.90" height="11.40" fill="#ffc000" />
<rect x="575.40" y="438.40" width="29.90" height="15.40" fill="#eea89c" />
<text x="610.30" y="406.80" font-size="10.4" fill="#000" text-anchor="start" >SR≤25%</text>
<text x="610.30" y="422.30" font-size="10.4" fill="#000" text-anchor="start" >25%&lt;SR≤50%</text>
<text x="609.80" y="437.00" font-size="10.4" fill="#000" text-anchor="start" >50%&lt;SR≤75%</text>
<text x="610.30" y="454.20" font-size="10.4" fill="#000" text-anchor="start" >SR&gt;75%</text>
</svg>
</body></html>
